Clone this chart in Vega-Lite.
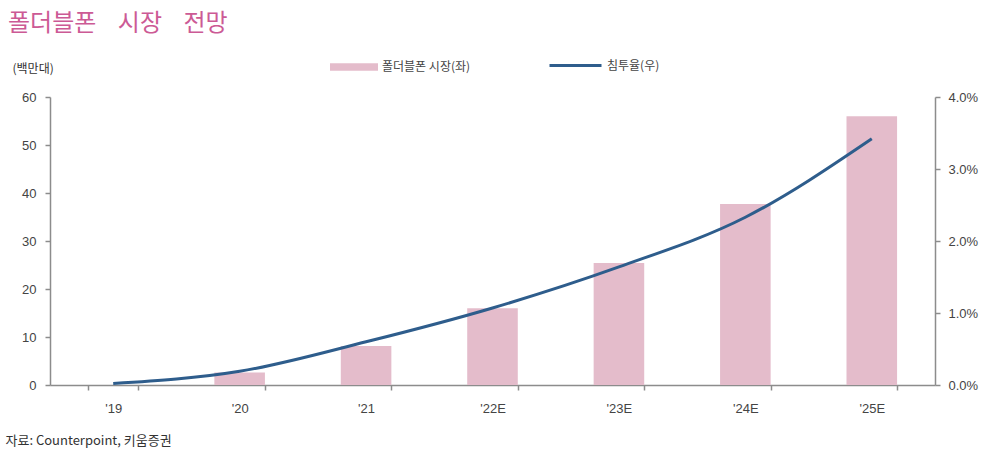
{
  "$schema": "https://vega.github.io/schema/vega-lite/v6.json",
  "autosize": "none",
  "width": 885,
  "height": 288,
  "padding": {"left": 50, "top": 97, "right": 59, "bottom": 67},
  "background": "white",
  "title": {
    "text": "폴더블폰\u00a0\u00a0\u00a0\u00a0시장\u00a0\u00a0\u00a0\u00a0전망",
    "anchor": "start",
    "frame": "group",
    "orient": "top",
    "dx": -42,
    "offset": 0,
    "dy": -2,
    "font": "Noto Sans CJK KR",
    "fontSize": 24,
    "fontWeight": "normal",
    "color": "#cc5a95"
  },
  "config": {
    "view": {"stroke": null},
    "font": "Noto Sans CJK KR",
    "axis": {
      "domainColor": "#8c8c8c",
      "tickColor": "#8c8c8c",
      "domainWidth": 1.5,
      "tickWidth": 1.5,
      "grid": false,
      "labelFont": "Liberation Sans",
      "labelFontSize": 13,
      "labelColor": "#444",
      "tickSize": 5
    },
    "legend": {
      "labelFont": "Noto Sans CJK KR",
      "labelFontSize": 12,
      "labelColor": "#444"
    }
  },
  "data": {
    "values": [
      {"year": "'19", "market": 0, "rate": 0.0002},
      {"year": "'20", "market": 2.6, "rate": 0.0019},
      {"year": "'21", "market": 8.1, "rate": 0.006},
      {"year": "'22E", "market": 16.0, "rate": 0.0107},
      {"year": "'23E", "market": 25.4, "rate": 0.0164},
      {"year": "'24E", "market": 37.7, "rate": 0.0233},
      {"year": "'25E", "market": 56.0, "rate": 0.0342}
    ]
  },
  "encoding": {
    "x": {
      "field": "year",
      "type": "ordinal",
      "sort": null,
      "scale": {"paddingInner": 0.6, "paddingOuter": 0.3},
      "axis": {
        "labelAngle": 0,
        "labelPadding": 12,
        "tickBand": "extent",
        "title": "자료: Counterpoint, 키움증권",
        "titleFont": "Noto Sans CJK KR",
        "titleFontSize": 13,
        "titleFontWeight": "normal",
        "titleColor": "#333",
        "titleAnchor": "start",
        "titleAlign": "left",
        "titleBaseline": "middle",
        "titleX": -45,
        "titleY": 55
      }
    }
  },
  "layer": [
    {
      "mark": {"type": "bar", "color": "#e4bccb"},
      "encoding": {
        "y": {
          "field": "market",
          "type": "quantitative",
          "scale": {"domain": [0, 60]},
          "axis": {
            "values": [0, 10, 20, 30, 40, 50, 60],
            "labelPadding": 9,
            "title": "(백만대)",
            "titleFont": "Noto Sans CJK KR",
            "titleFontSize": 12,
            "titleFontWeight": "normal",
            "titleColor": "#333",
            "titleAngle": 0,
            "titleAlign": "left",
            "titleBaseline": "middle",
            "titleX": -38,
            "titleY": -29
          }
        },
        "color": {
          "datum": "폴더블폰 시장(좌)",
          "scale": {"range": ["#e4bccb"]},
          "legend": {
            "title": null,
            "orient": "none",
            "legendX": 280,
            "legendY": -54,
            "symbolType": "M-1,-0.16H1V0.16H-1Z",
            "symbolSize": 2304,
            "symbolStrokeWidth": 0,
            "symbolOpacity": 1
          }
        }
      }
    },
    {
      "mark": {"type": "line", "interpolate": "monotone", "strokeWidth": 3, "color": "#2e5d8c"},
      "encoding": {
        "y": {
          "field": "rate",
          "type": "quantitative",
          "scale": {"domain": [0, 0.04]},
          "axis": {
            "orient": "right",
            "values": [0, 0.01, 0.02, 0.03, 0.04],
            "format": ".1%",
            "labelPadding": 8,
            "title": null
          }
        },
        "color": {
          "datum": "침투율(우)",
          "scale": {"range": ["#2e5d8c"]},
          "legend": {
            "title": null,
            "orient": "none",
            "legendX": 498,
            "legendY": -59,
            "symbolType": "stroke",
            "symbolSize": 2704,
            "symbolStrokeWidth": 3
          }
        }
      }
    }
  ],
  "resolve": {"scale": {"y": "independent", "color": "independent"}}
}
